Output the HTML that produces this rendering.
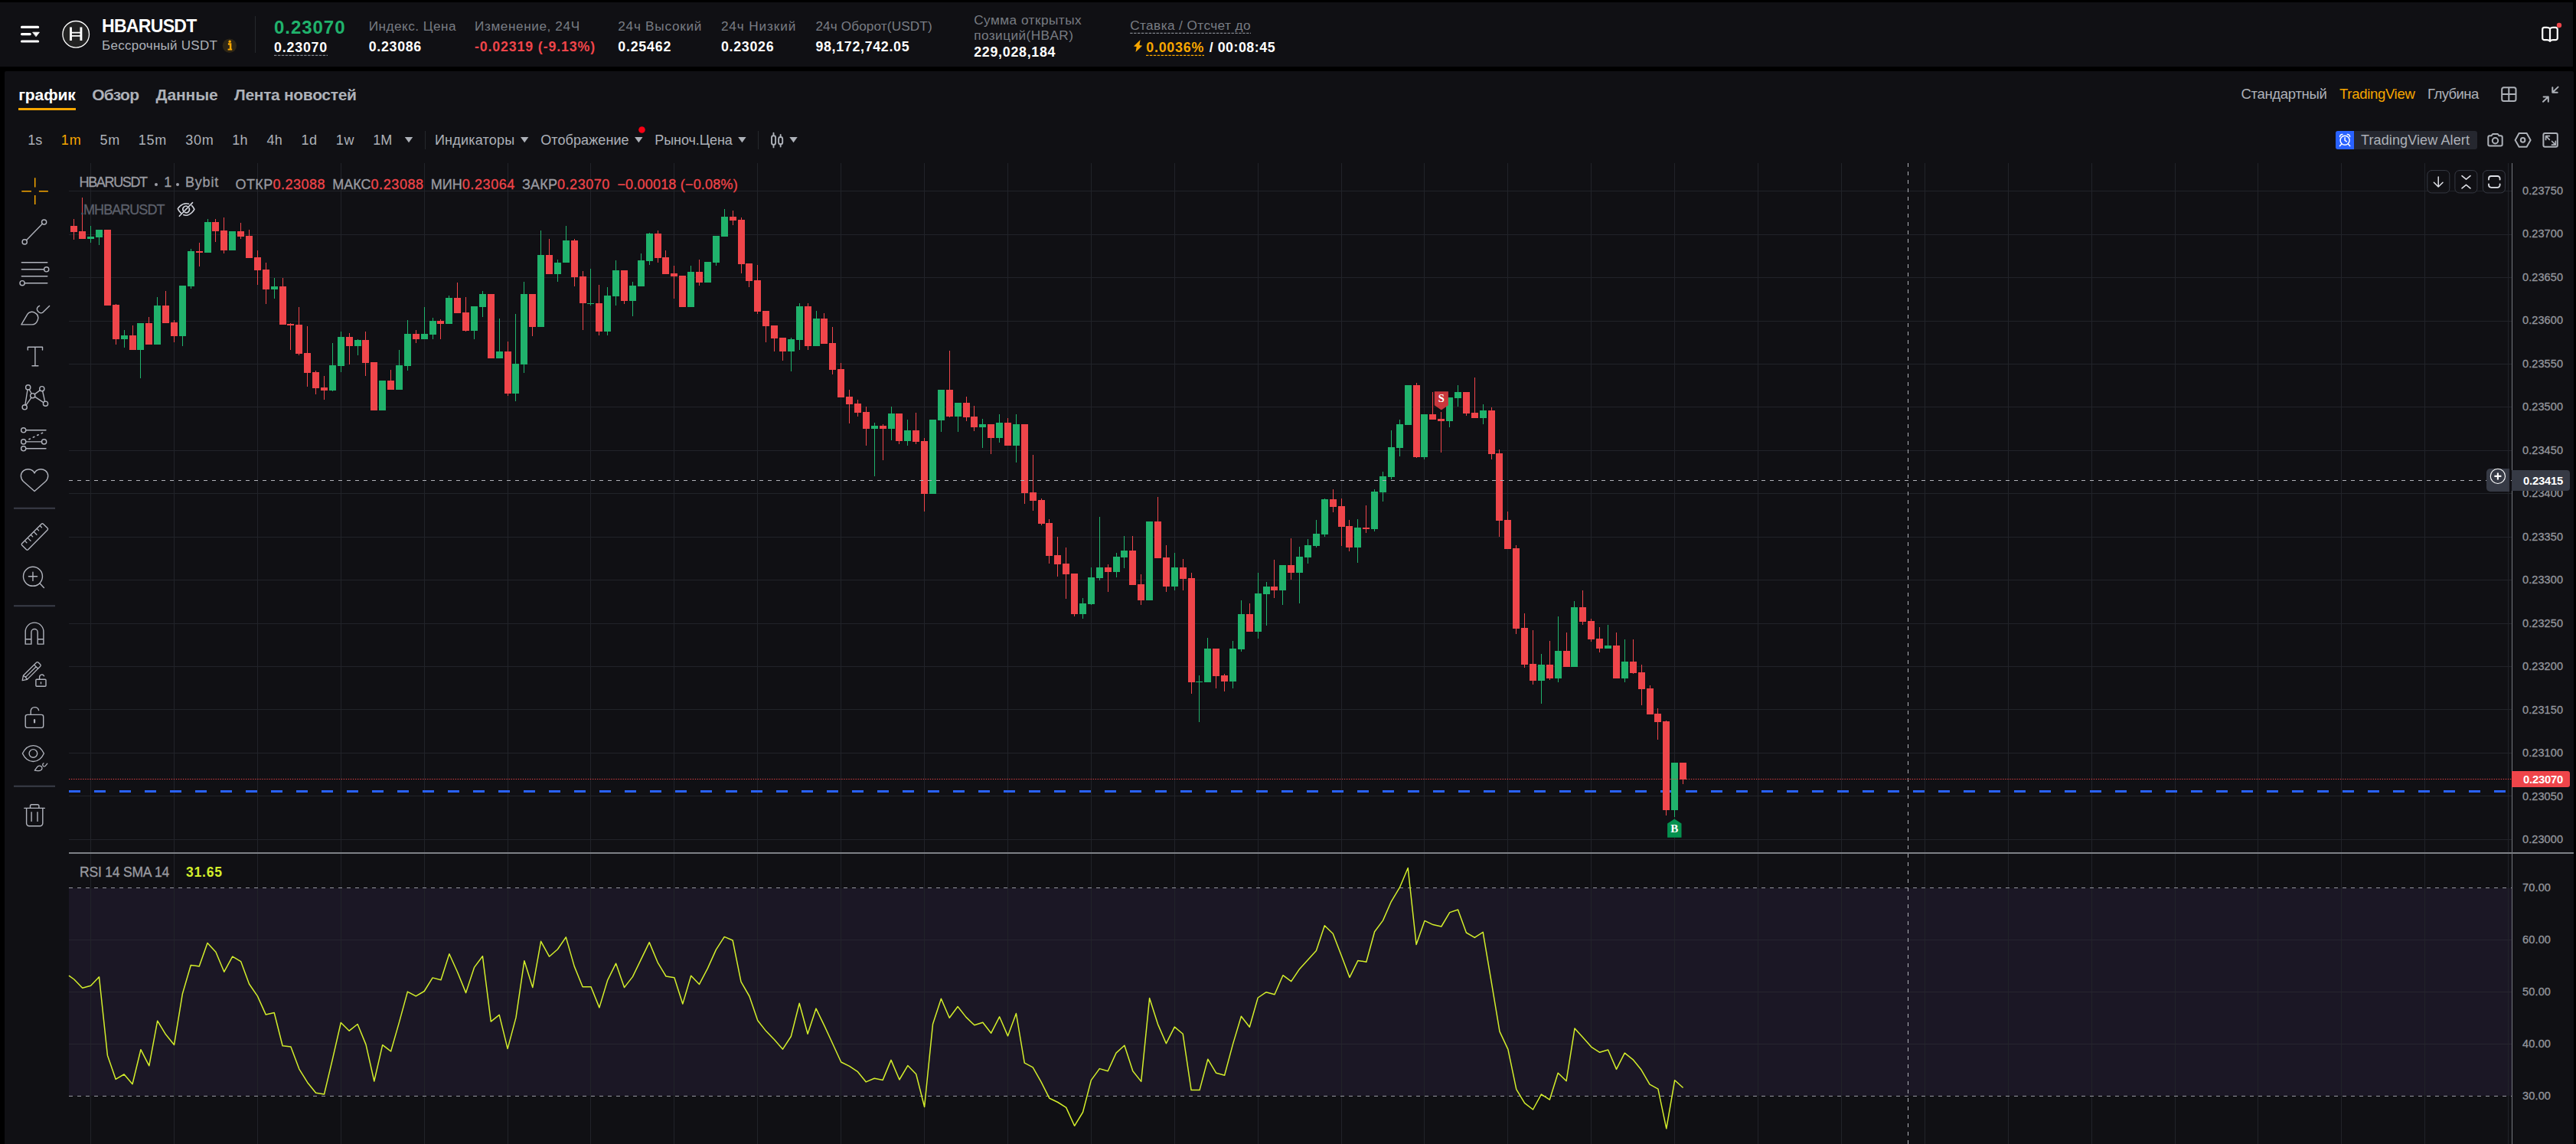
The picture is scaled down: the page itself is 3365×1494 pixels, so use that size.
<!DOCTYPE html><html><head><meta charset="utf-8"><title>HBARUSDT</title><style>
html,body{margin:0;padding:0;background:#000;}
body{width:3365px;height:1494px;position:relative;overflow:hidden;font-family:"Liberation Sans",sans-serif;}
.t{position:absolute;white-space:nowrap;display:block;}
.p{position:absolute;background:#101014;}
.a{position:absolute;}
svg{position:absolute;left:0;top:0;overflow:visible;}

</style></head><body>
<div class="p" style="left:0;top:3px;width:3361px;height:84px"></div>
<div class="p" style="left:6px;top:93px;width:3356px;height:1401px;border-radius:2px 2px 0 0"></div>
<svg width="3365" height="1494" viewBox="0 0 3365 1494" shape-rendering="crispEdges">
<rect x="90" y="1160" width="3191" height="271" fill="#1b1725"/>
<rect x="118" y="213" width="1" height="1281" fill="#212329"/>
<rect x="227" y="213" width="1" height="1281" fill="#212329"/>
<rect x="336" y="213" width="1" height="1281" fill="#212329"/>
<rect x="445" y="213" width="1" height="1281" fill="#212329"/>
<rect x="554" y="213" width="1" height="1281" fill="#212329"/>
<rect x="663" y="213" width="1" height="1281" fill="#212329"/>
<rect x="771" y="213" width="1" height="1281" fill="#212329"/>
<rect x="880" y="213" width="1" height="1281" fill="#212329"/>
<rect x="989" y="213" width="1" height="1281" fill="#212329"/>
<rect x="1098" y="213" width="1" height="1281" fill="#212329"/>
<rect x="1207" y="213" width="1" height="1281" fill="#212329"/>
<rect x="1316" y="213" width="1" height="1281" fill="#212329"/>
<rect x="1425" y="213" width="1" height="1281" fill="#212329"/>
<rect x="1534" y="213" width="1" height="1281" fill="#212329"/>
<rect x="1643" y="213" width="1" height="1281" fill="#212329"/>
<rect x="1752" y="213" width="1" height="1281" fill="#212329"/>
<rect x="1860" y="213" width="1" height="1281" fill="#212329"/>
<rect x="1969" y="213" width="1" height="1281" fill="#212329"/>
<rect x="2078" y="213" width="1" height="1281" fill="#212329"/>
<rect x="2187" y="213" width="1" height="1281" fill="#212329"/>
<rect x="2296" y="213" width="1" height="1281" fill="#212329"/>
<rect x="2405" y="213" width="1" height="1281" fill="#212329"/>
<rect x="2514" y="213" width="1" height="1281" fill="#212329"/>
<rect x="2623" y="213" width="1" height="1281" fill="#212329"/>
<rect x="2732" y="213" width="1" height="1281" fill="#212329"/>
<rect x="2841" y="213" width="1" height="1281" fill="#212329"/>
<rect x="2949" y="213" width="1" height="1281" fill="#212329"/>
<rect x="3058" y="213" width="1" height="1281" fill="#212329"/>
<rect x="3167" y="213" width="1" height="1281" fill="#212329"/>
<rect x="3276" y="213" width="1" height="1281" fill="#212329"/>
<rect x="90" y="249" width="3191" height="1" fill="#212329"/>
<rect x="90" y="306" width="3191" height="1" fill="#212329"/>
<rect x="90" y="362" width="3191" height="1" fill="#212329"/>
<rect x="90" y="419" width="3191" height="1" fill="#212329"/>
<rect x="90" y="475" width="3191" height="1" fill="#212329"/>
<rect x="90" y="531" width="3191" height="1" fill="#212329"/>
<rect x="90" y="588" width="3191" height="1" fill="#212329"/>
<rect x="90" y="644" width="3191" height="1" fill="#212329"/>
<rect x="90" y="701" width="3191" height="1" fill="#212329"/>
<rect x="90" y="757" width="3191" height="1" fill="#212329"/>
<rect x="90" y="814" width="3191" height="1" fill="#212329"/>
<rect x="90" y="870" width="3191" height="1" fill="#212329"/>
<rect x="90" y="926" width="3191" height="1" fill="#212329"/>
<rect x="90" y="983" width="3191" height="1" fill="#212329"/>
<rect x="90" y="1039" width="3191" height="1" fill="#212329"/>
<rect x="90" y="1096" width="3191" height="1" fill="#212329"/>
<rect x="90" y="1227" width="3191" height="1" fill="#26242f"/>
<rect x="90" y="1295" width="3191" height="1" fill="#26242f"/>
<rect x="90" y="1363" width="3191" height="1" fill="#26242f"/>
<rect x="90" y="1113" width="3272" height="2" fill="#7d8086"/>
<rect x="3281" y="213" width="1" height="1281" fill="#73767d"/>
<line x1="90" y1="1159.5" x2="3281" y2="1159.5" stroke="#94969e" stroke-width="1" stroke-dasharray="5.3 5.7"/>
<line x1="90" y1="1431.5" x2="3281" y2="1431.5" stroke="#94969e" stroke-width="1" stroke-dasharray="5.3 5.7"/>
<line x1="89.6" y1="1033.5" x2="3277" y2="1033.5" stroke="#2962ff" stroke-width="3" stroke-dasharray="15.1 17.9"/>
<rect x="96" y="286" width="1" height="27" fill="#ef454a"/>
<rect x="92" y="295" width="9" height="8" fill="#ef454a"/>
<rect x="107" y="258" width="1" height="54" fill="#ef454a"/>
<rect x="103" y="302" width="9" height="10" fill="#ef454a"/>
<rect x="118" y="295" width="1" height="22" fill="#20b26c"/>
<rect x="114" y="309" width="9" height="3" fill="#20b26c"/>
<rect x="129" y="300" width="1" height="20" fill="#20b26c"/>
<rect x="125" y="300" width="9" height="10" fill="#20b26c"/>
<rect x="140" y="300" width="1" height="99" fill="#ef454a"/>
<rect x="136" y="300" width="9" height="99" fill="#ef454a"/>
<rect x="151" y="397" width="1" height="53" fill="#ef454a"/>
<rect x="147" y="398" width="9" height="45" fill="#ef454a"/>
<rect x="162" y="431" width="1" height="23" fill="#20b26c"/>
<rect x="158" y="438" width="9" height="5" fill="#20b26c"/>
<rect x="173" y="425" width="1" height="32" fill="#ef454a"/>
<rect x="169" y="438" width="9" height="19" fill="#ef454a"/>
<rect x="183" y="422" width="1" height="72" fill="#20b26c"/>
<rect x="179" y="422" width="9" height="35" fill="#20b26c"/>
<rect x="194" y="414" width="1" height="36" fill="#ef454a"/>
<rect x="190" y="422" width="9" height="28" fill="#ef454a"/>
<rect x="205" y="388" width="1" height="62" fill="#20b26c"/>
<rect x="201" y="399" width="9" height="51" fill="#20b26c"/>
<rect x="216" y="380" width="1" height="42" fill="#ef454a"/>
<rect x="212" y="399" width="9" height="23" fill="#ef454a"/>
<rect x="227" y="418" width="1" height="29" fill="#ef454a"/>
<rect x="223" y="421" width="9" height="18" fill="#ef454a"/>
<rect x="238" y="373" width="1" height="79" fill="#20b26c"/>
<rect x="234" y="373" width="9" height="66" fill="#20b26c"/>
<rect x="249" y="325" width="1" height="52" fill="#20b26c"/>
<rect x="245" y="328" width="9" height="46" fill="#20b26c"/>
<rect x="260" y="317" width="1" height="31" fill="#ef454a"/>
<rect x="256" y="328" width="9" height="2" fill="#ef454a"/>
<rect x="271" y="286" width="1" height="44" fill="#20b26c"/>
<rect x="267" y="290" width="9" height="40" fill="#20b26c"/>
<rect x="281" y="286" width="1" height="30" fill="#ef454a"/>
<rect x="277" y="290" width="9" height="12" fill="#ef454a"/>
<rect x="292" y="284" width="1" height="47" fill="#ef454a"/>
<rect x="288" y="301" width="9" height="26" fill="#ef454a"/>
<rect x="303" y="302" width="1" height="25" fill="#20b26c"/>
<rect x="299" y="302" width="9" height="25" fill="#20b26c"/>
<rect x="314" y="291" width="1" height="21" fill="#ef454a"/>
<rect x="310" y="302" width="9" height="7" fill="#ef454a"/>
<rect x="325" y="300" width="1" height="37" fill="#ef454a"/>
<rect x="321" y="308" width="9" height="29" fill="#ef454a"/>
<rect x="336" y="327" width="1" height="45" fill="#ef454a"/>
<rect x="332" y="336" width="9" height="17" fill="#ef454a"/>
<rect x="347" y="343" width="1" height="54" fill="#ef454a"/>
<rect x="343" y="352" width="9" height="26" fill="#ef454a"/>
<rect x="358" y="363" width="1" height="27" fill="#20b26c"/>
<rect x="354" y="374" width="9" height="4" fill="#20b26c"/>
<rect x="369" y="363" width="1" height="61" fill="#ef454a"/>
<rect x="365" y="374" width="9" height="50" fill="#ef454a"/>
<rect x="379" y="422" width="1" height="35" fill="#ef454a"/>
<rect x="375" y="423" width="9" height="2" fill="#ef454a"/>
<rect x="390" y="401" width="1" height="63" fill="#ef454a"/>
<rect x="386" y="424" width="9" height="38" fill="#ef454a"/>
<rect x="401" y="426" width="1" height="79" fill="#ef454a"/>
<rect x="397" y="461" width="9" height="26" fill="#ef454a"/>
<rect x="412" y="484" width="1" height="31" fill="#ef454a"/>
<rect x="408" y="486" width="9" height="21" fill="#ef454a"/>
<rect x="423" y="491" width="1" height="31" fill="#ef454a"/>
<rect x="419" y="506" width="9" height="4" fill="#ef454a"/>
<rect x="434" y="448" width="1" height="63" fill="#20b26c"/>
<rect x="430" y="477" width="9" height="33" fill="#20b26c"/>
<rect x="445" y="433" width="1" height="53" fill="#20b26c"/>
<rect x="441" y="440" width="9" height="38" fill="#20b26c"/>
<rect x="456" y="435" width="1" height="41" fill="#ef454a"/>
<rect x="452" y="440" width="9" height="12" fill="#ef454a"/>
<rect x="467" y="443" width="1" height="21" fill="#20b26c"/>
<rect x="463" y="444" width="9" height="8" fill="#20b26c"/>
<rect x="477" y="433" width="1" height="58" fill="#ef454a"/>
<rect x="473" y="444" width="9" height="30" fill="#ef454a"/>
<rect x="488" y="473" width="1" height="63" fill="#ef454a"/>
<rect x="484" y="473" width="9" height="63" fill="#ef454a"/>
<rect x="499" y="497" width="1" height="39" fill="#20b26c"/>
<rect x="495" y="497" width="9" height="39" fill="#20b26c"/>
<rect x="510" y="483" width="1" height="26" fill="#ef454a"/>
<rect x="506" y="497" width="9" height="12" fill="#ef454a"/>
<rect x="521" y="457" width="1" height="52" fill="#20b26c"/>
<rect x="517" y="477" width="9" height="32" fill="#20b26c"/>
<rect x="532" y="418" width="1" height="66" fill="#20b26c"/>
<rect x="528" y="436" width="9" height="42" fill="#20b26c"/>
<rect x="543" y="431" width="1" height="17" fill="#ef454a"/>
<rect x="539" y="436" width="9" height="7" fill="#ef454a"/>
<rect x="554" y="401" width="1" height="42" fill="#20b26c"/>
<rect x="550" y="436" width="9" height="7" fill="#20b26c"/>
<rect x="565" y="415" width="1" height="28" fill="#20b26c"/>
<rect x="561" y="419" width="9" height="18" fill="#20b26c"/>
<rect x="575" y="417" width="1" height="26" fill="#ef454a"/>
<rect x="571" y="419" width="9" height="4" fill="#ef454a"/>
<rect x="586" y="386" width="1" height="37" fill="#20b26c"/>
<rect x="582" y="389" width="9" height="34" fill="#20b26c"/>
<rect x="597" y="369" width="1" height="40" fill="#ef454a"/>
<rect x="593" y="389" width="9" height="20" fill="#ef454a"/>
<rect x="608" y="388" width="1" height="45" fill="#ef454a"/>
<rect x="604" y="408" width="9" height="24" fill="#ef454a"/>
<rect x="619" y="400" width="1" height="43" fill="#20b26c"/>
<rect x="615" y="400" width="9" height="32" fill="#20b26c"/>
<rect x="630" y="380" width="1" height="34" fill="#20b26c"/>
<rect x="626" y="384" width="9" height="17" fill="#20b26c"/>
<rect x="641" y="384" width="1" height="84" fill="#ef454a"/>
<rect x="637" y="384" width="9" height="84" fill="#ef454a"/>
<rect x="652" y="416" width="1" height="52" fill="#20b26c"/>
<rect x="648" y="459" width="9" height="9" fill="#20b26c"/>
<rect x="663" y="446" width="1" height="71" fill="#ef454a"/>
<rect x="659" y="459" width="9" height="55" fill="#ef454a"/>
<rect x="673" y="410" width="1" height="114" fill="#20b26c"/>
<rect x="669" y="475" width="9" height="39" fill="#20b26c"/>
<rect x="684" y="368" width="1" height="119" fill="#20b26c"/>
<rect x="680" y="384" width="9" height="92" fill="#20b26c"/>
<rect x="695" y="384" width="1" height="55" fill="#ef454a"/>
<rect x="691" y="384" width="9" height="43" fill="#ef454a"/>
<rect x="706" y="301" width="1" height="126" fill="#20b26c"/>
<rect x="702" y="333" width="9" height="94" fill="#20b26c"/>
<rect x="717" y="312" width="1" height="46" fill="#ef454a"/>
<rect x="713" y="333" width="9" height="25" fill="#ef454a"/>
<rect x="728" y="339" width="1" height="29" fill="#20b26c"/>
<rect x="724" y="343" width="9" height="15" fill="#20b26c"/>
<rect x="739" y="295" width="1" height="48" fill="#20b26c"/>
<rect x="735" y="314" width="9" height="29" fill="#20b26c"/>
<rect x="750" y="312" width="1" height="62" fill="#ef454a"/>
<rect x="746" y="314" width="9" height="48" fill="#ef454a"/>
<rect x="761" y="354" width="1" height="77" fill="#ef454a"/>
<rect x="757" y="361" width="9" height="35" fill="#ef454a"/>
<rect x="771" y="351" width="1" height="48" fill="#20b26c"/>
<rect x="767" y="396" width="9" height="1" fill="#20b26c"/>
<rect x="782" y="372" width="1" height="66" fill="#ef454a"/>
<rect x="778" y="396" width="9" height="37" fill="#ef454a"/>
<rect x="793" y="375" width="1" height="63" fill="#20b26c"/>
<rect x="789" y="386" width="9" height="47" fill="#20b26c"/>
<rect x="804" y="340" width="1" height="59" fill="#20b26c"/>
<rect x="800" y="353" width="9" height="34" fill="#20b26c"/>
<rect x="815" y="353" width="1" height="44" fill="#ef454a"/>
<rect x="811" y="353" width="9" height="40" fill="#ef454a"/>
<rect x="826" y="368" width="1" height="45" fill="#20b26c"/>
<rect x="822" y="373" width="9" height="20" fill="#20b26c"/>
<rect x="837" y="331" width="1" height="43" fill="#20b26c"/>
<rect x="833" y="340" width="9" height="34" fill="#20b26c"/>
<rect x="848" y="304" width="1" height="42" fill="#20b26c"/>
<rect x="844" y="305" width="9" height="36" fill="#20b26c"/>
<rect x="859" y="301" width="1" height="42" fill="#ef454a"/>
<rect x="855" y="305" width="9" height="32" fill="#ef454a"/>
<rect x="869" y="327" width="1" height="31" fill="#ef454a"/>
<rect x="865" y="336" width="9" height="22" fill="#ef454a"/>
<rect x="880" y="347" width="1" height="43" fill="#ef454a"/>
<rect x="876" y="357" width="9" height="4" fill="#ef454a"/>
<rect x="891" y="360" width="1" height="41" fill="#ef454a"/>
<rect x="887" y="360" width="9" height="41" fill="#ef454a"/>
<rect x="902" y="347" width="1" height="54" fill="#20b26c"/>
<rect x="898" y="355" width="9" height="46" fill="#20b26c"/>
<rect x="913" y="339" width="1" height="34" fill="#ef454a"/>
<rect x="909" y="355" width="9" height="14" fill="#ef454a"/>
<rect x="924" y="342" width="1" height="27" fill="#20b26c"/>
<rect x="920" y="342" width="9" height="27" fill="#20b26c"/>
<rect x="935" y="308" width="1" height="39" fill="#20b26c"/>
<rect x="931" y="308" width="9" height="35" fill="#20b26c"/>
<rect x="946" y="273" width="1" height="36" fill="#20b26c"/>
<rect x="942" y="283" width="9" height="26" fill="#20b26c"/>
<rect x="957" y="275" width="1" height="19" fill="#ef454a"/>
<rect x="953" y="283" width="9" height="5" fill="#ef454a"/>
<rect x="968" y="284" width="1" height="73" fill="#ef454a"/>
<rect x="964" y="287" width="9" height="58" fill="#ef454a"/>
<rect x="978" y="344" width="1" height="31" fill="#ef454a"/>
<rect x="974" y="344" width="9" height="23" fill="#ef454a"/>
<rect x="989" y="346" width="1" height="64" fill="#ef454a"/>
<rect x="985" y="366" width="9" height="41" fill="#ef454a"/>
<rect x="1000" y="406" width="1" height="41" fill="#ef454a"/>
<rect x="996" y="406" width="9" height="20" fill="#ef454a"/>
<rect x="1011" y="425" width="1" height="34" fill="#ef454a"/>
<rect x="1007" y="425" width="9" height="17" fill="#ef454a"/>
<rect x="1022" y="441" width="1" height="30" fill="#ef454a"/>
<rect x="1018" y="441" width="9" height="18" fill="#ef454a"/>
<rect x="1033" y="441" width="1" height="44" fill="#20b26c"/>
<rect x="1029" y="443" width="9" height="16" fill="#20b26c"/>
<rect x="1044" y="396" width="1" height="61" fill="#20b26c"/>
<rect x="1040" y="400" width="9" height="44" fill="#20b26c"/>
<rect x="1055" y="396" width="1" height="61" fill="#ef454a"/>
<rect x="1051" y="400" width="9" height="52" fill="#ef454a"/>
<rect x="1066" y="406" width="1" height="46" fill="#20b26c"/>
<rect x="1062" y="416" width="9" height="36" fill="#20b26c"/>
<rect x="1076" y="409" width="1" height="40" fill="#ef454a"/>
<rect x="1072" y="416" width="9" height="33" fill="#ef454a"/>
<rect x="1087" y="427" width="1" height="62" fill="#ef454a"/>
<rect x="1083" y="448" width="9" height="35" fill="#ef454a"/>
<rect x="1098" y="474" width="1" height="45" fill="#ef454a"/>
<rect x="1094" y="482" width="9" height="37" fill="#ef454a"/>
<rect x="1109" y="509" width="1" height="44" fill="#ef454a"/>
<rect x="1105" y="518" width="9" height="10" fill="#ef454a"/>
<rect x="1120" y="522" width="1" height="22" fill="#ef454a"/>
<rect x="1116" y="527" width="9" height="12" fill="#ef454a"/>
<rect x="1131" y="531" width="1" height="51" fill="#ef454a"/>
<rect x="1127" y="538" width="9" height="22" fill="#ef454a"/>
<rect x="1142" y="552" width="1" height="70" fill="#20b26c"/>
<rect x="1138" y="556" width="9" height="4" fill="#20b26c"/>
<rect x="1153" y="554" width="1" height="47" fill="#ef454a"/>
<rect x="1149" y="556" width="9" height="4" fill="#ef454a"/>
<rect x="1164" y="531" width="1" height="44" fill="#20b26c"/>
<rect x="1160" y="540" width="9" height="20" fill="#20b26c"/>
<rect x="1174" y="540" width="1" height="40" fill="#ef454a"/>
<rect x="1170" y="540" width="9" height="36" fill="#ef454a"/>
<rect x="1185" y="548" width="1" height="34" fill="#20b26c"/>
<rect x="1181" y="562" width="9" height="14" fill="#20b26c"/>
<rect x="1196" y="539" width="1" height="41" fill="#ef454a"/>
<rect x="1192" y="562" width="9" height="15" fill="#ef454a"/>
<rect x="1207" y="572" width="1" height="96" fill="#ef454a"/>
<rect x="1203" y="576" width="9" height="69" fill="#ef454a"/>
<rect x="1218" y="548" width="1" height="97" fill="#20b26c"/>
<rect x="1214" y="548" width="9" height="97" fill="#20b26c"/>
<rect x="1229" y="509" width="1" height="55" fill="#20b26c"/>
<rect x="1225" y="509" width="9" height="40" fill="#20b26c"/>
<rect x="1240" y="458" width="1" height="87" fill="#ef454a"/>
<rect x="1236" y="509" width="9" height="35" fill="#ef454a"/>
<rect x="1251" y="526" width="1" height="38" fill="#20b26c"/>
<rect x="1247" y="526" width="9" height="18" fill="#20b26c"/>
<rect x="1262" y="518" width="1" height="32" fill="#ef454a"/>
<rect x="1258" y="526" width="9" height="19" fill="#ef454a"/>
<rect x="1272" y="530" width="1" height="33" fill="#ef454a"/>
<rect x="1268" y="544" width="9" height="14" fill="#ef454a"/>
<rect x="1283" y="547" width="1" height="38" fill="#20b26c"/>
<rect x="1279" y="554" width="9" height="4" fill="#20b26c"/>
<rect x="1294" y="554" width="1" height="39" fill="#ef454a"/>
<rect x="1290" y="554" width="9" height="18" fill="#ef454a"/>
<rect x="1305" y="541" width="1" height="37" fill="#20b26c"/>
<rect x="1301" y="552" width="9" height="20" fill="#20b26c"/>
<rect x="1316" y="546" width="1" height="36" fill="#ef454a"/>
<rect x="1312" y="552" width="9" height="30" fill="#ef454a"/>
<rect x="1327" y="541" width="1" height="63" fill="#20b26c"/>
<rect x="1323" y="554" width="9" height="28" fill="#20b26c"/>
<rect x="1338" y="554" width="1" height="104" fill="#ef454a"/>
<rect x="1334" y="554" width="9" height="90" fill="#ef454a"/>
<rect x="1349" y="594" width="1" height="73" fill="#ef454a"/>
<rect x="1345" y="643" width="9" height="11" fill="#ef454a"/>
<rect x="1360" y="651" width="1" height="35" fill="#ef454a"/>
<rect x="1356" y="653" width="9" height="31" fill="#ef454a"/>
<rect x="1370" y="678" width="1" height="58" fill="#ef454a"/>
<rect x="1366" y="683" width="9" height="43" fill="#ef454a"/>
<rect x="1381" y="701" width="1" height="52" fill="#ef454a"/>
<rect x="1377" y="725" width="9" height="12" fill="#ef454a"/>
<rect x="1392" y="715" width="1" height="67" fill="#ef454a"/>
<rect x="1388" y="736" width="9" height="14" fill="#ef454a"/>
<rect x="1403" y="749" width="1" height="56" fill="#ef454a"/>
<rect x="1399" y="749" width="9" height="53" fill="#ef454a"/>
<rect x="1414" y="781" width="1" height="27" fill="#20b26c"/>
<rect x="1410" y="788" width="9" height="14" fill="#20b26c"/>
<rect x="1425" y="741" width="1" height="49" fill="#20b26c"/>
<rect x="1421" y="754" width="9" height="35" fill="#20b26c"/>
<rect x="1436" y="675" width="1" height="83" fill="#20b26c"/>
<rect x="1432" y="741" width="9" height="14" fill="#20b26c"/>
<rect x="1447" y="737" width="1" height="36" fill="#ef454a"/>
<rect x="1443" y="741" width="9" height="6" fill="#ef454a"/>
<rect x="1458" y="722" width="1" height="32" fill="#20b26c"/>
<rect x="1454" y="727" width="9" height="20" fill="#20b26c"/>
<rect x="1468" y="700" width="1" height="42" fill="#20b26c"/>
<rect x="1464" y="719" width="9" height="9" fill="#20b26c"/>
<rect x="1479" y="700" width="1" height="64" fill="#ef454a"/>
<rect x="1475" y="719" width="9" height="45" fill="#ef454a"/>
<rect x="1490" y="750" width="1" height="40" fill="#ef454a"/>
<rect x="1486" y="763" width="9" height="21" fill="#ef454a"/>
<rect x="1501" y="681" width="1" height="103" fill="#20b26c"/>
<rect x="1497" y="681" width="9" height="103" fill="#20b26c"/>
<rect x="1512" y="649" width="1" height="80" fill="#ef454a"/>
<rect x="1508" y="681" width="9" height="48" fill="#ef454a"/>
<rect x="1523" y="712" width="1" height="61" fill="#ef454a"/>
<rect x="1519" y="728" width="9" height="38" fill="#ef454a"/>
<rect x="1534" y="722" width="1" height="49" fill="#20b26c"/>
<rect x="1530" y="741" width="9" height="25" fill="#20b26c"/>
<rect x="1545" y="730" width="1" height="41" fill="#ef454a"/>
<rect x="1541" y="741" width="9" height="15" fill="#ef454a"/>
<rect x="1556" y="748" width="1" height="158" fill="#ef454a"/>
<rect x="1552" y="755" width="9" height="136" fill="#ef454a"/>
<rect x="1566" y="882" width="1" height="61" fill="#20b26c"/>
<rect x="1562" y="890" width="9" height="1" fill="#20b26c"/>
<rect x="1577" y="833" width="1" height="58" fill="#20b26c"/>
<rect x="1573" y="847" width="9" height="44" fill="#20b26c"/>
<rect x="1588" y="847" width="1" height="52" fill="#ef454a"/>
<rect x="1584" y="847" width="9" height="36" fill="#ef454a"/>
<rect x="1599" y="880" width="1" height="23" fill="#ef454a"/>
<rect x="1595" y="882" width="9" height="8" fill="#ef454a"/>
<rect x="1610" y="837" width="1" height="62" fill="#20b26c"/>
<rect x="1606" y="847" width="9" height="43" fill="#20b26c"/>
<rect x="1621" y="784" width="1" height="67" fill="#20b26c"/>
<rect x="1617" y="802" width="9" height="46" fill="#20b26c"/>
<rect x="1632" y="788" width="1" height="37" fill="#ef454a"/>
<rect x="1628" y="802" width="9" height="23" fill="#ef454a"/>
<rect x="1643" y="748" width="1" height="86" fill="#20b26c"/>
<rect x="1639" y="775" width="9" height="50" fill="#20b26c"/>
<rect x="1654" y="760" width="1" height="57" fill="#20b26c"/>
<rect x="1650" y="766" width="9" height="10" fill="#20b26c"/>
<rect x="1664" y="731" width="1" height="50" fill="#ef454a"/>
<rect x="1660" y="766" width="9" height="5" fill="#ef454a"/>
<rect x="1675" y="738" width="1" height="52" fill="#20b26c"/>
<rect x="1671" y="738" width="9" height="33" fill="#20b26c"/>
<rect x="1686" y="703" width="1" height="54" fill="#ef454a"/>
<rect x="1682" y="738" width="9" height="10" fill="#ef454a"/>
<rect x="1697" y="714" width="1" height="74" fill="#20b26c"/>
<rect x="1693" y="727" width="9" height="21" fill="#20b26c"/>
<rect x="1708" y="704" width="1" height="32" fill="#20b26c"/>
<rect x="1704" y="712" width="9" height="16" fill="#20b26c"/>
<rect x="1719" y="679" width="1" height="36" fill="#20b26c"/>
<rect x="1715" y="697" width="9" height="16" fill="#20b26c"/>
<rect x="1730" y="651" width="1" height="50" fill="#20b26c"/>
<rect x="1726" y="652" width="9" height="46" fill="#20b26c"/>
<rect x="1741" y="639" width="1" height="30" fill="#ef454a"/>
<rect x="1737" y="652" width="9" height="10" fill="#ef454a"/>
<rect x="1752" y="651" width="1" height="62" fill="#ef454a"/>
<rect x="1748" y="661" width="9" height="27" fill="#ef454a"/>
<rect x="1762" y="679" width="1" height="41" fill="#ef454a"/>
<rect x="1758" y="687" width="9" height="28" fill="#ef454a"/>
<rect x="1773" y="678" width="1" height="57" fill="#20b26c"/>
<rect x="1769" y="689" width="9" height="26" fill="#20b26c"/>
<rect x="1784" y="660" width="1" height="36" fill="#ef454a"/>
<rect x="1780" y="689" width="9" height="2" fill="#ef454a"/>
<rect x="1795" y="639" width="1" height="55" fill="#20b26c"/>
<rect x="1791" y="642" width="9" height="49" fill="#20b26c"/>
<rect x="1806" y="616" width="1" height="39" fill="#20b26c"/>
<rect x="1802" y="622" width="9" height="21" fill="#20b26c"/>
<rect x="1817" y="562" width="1" height="64" fill="#20b26c"/>
<rect x="1813" y="584" width="9" height="39" fill="#20b26c"/>
<rect x="1828" y="548" width="1" height="48" fill="#20b26c"/>
<rect x="1824" y="554" width="9" height="31" fill="#20b26c"/>
<rect x="1839" y="503" width="1" height="52" fill="#20b26c"/>
<rect x="1835" y="503" width="9" height="52" fill="#20b26c"/>
<rect x="1850" y="500" width="1" height="98" fill="#ef454a"/>
<rect x="1846" y="503" width="9" height="94" fill="#ef454a"/>
<rect x="1860" y="541" width="1" height="59" fill="#20b26c"/>
<rect x="1856" y="541" width="9" height="56" fill="#20b26c"/>
<rect x="1871" y="512" width="1" height="36" fill="#ef454a"/>
<rect x="1867" y="541" width="9" height="7" fill="#ef454a"/>
<rect x="1882" y="538" width="1" height="53" fill="#ef454a"/>
<rect x="1878" y="547" width="9" height="3" fill="#ef454a"/>
<rect x="1893" y="519" width="1" height="39" fill="#20b26c"/>
<rect x="1889" y="519" width="9" height="31" fill="#20b26c"/>
<rect x="1904" y="503" width="1" height="28" fill="#20b26c"/>
<rect x="1900" y="512" width="9" height="8" fill="#20b26c"/>
<rect x="1915" y="512" width="1" height="31" fill="#ef454a"/>
<rect x="1911" y="512" width="9" height="28" fill="#ef454a"/>
<rect x="1926" y="493" width="1" height="53" fill="#ef454a"/>
<rect x="1922" y="539" width="9" height="7" fill="#ef454a"/>
<rect x="1937" y="528" width="1" height="26" fill="#20b26c"/>
<rect x="1933" y="536" width="9" height="10" fill="#20b26c"/>
<rect x="1948" y="532" width="1" height="68" fill="#ef454a"/>
<rect x="1944" y="536" width="9" height="57" fill="#ef454a"/>
<rect x="1958" y="587" width="1" height="114" fill="#ef454a"/>
<rect x="1954" y="592" width="9" height="88" fill="#ef454a"/>
<rect x="1969" y="668" width="1" height="49" fill="#ef454a"/>
<rect x="1965" y="679" width="9" height="38" fill="#ef454a"/>
<rect x="1980" y="712" width="1" height="116" fill="#ef454a"/>
<rect x="1976" y="716" width="9" height="105" fill="#ef454a"/>
<rect x="1991" y="801" width="1" height="71" fill="#ef454a"/>
<rect x="1987" y="820" width="9" height="48" fill="#ef454a"/>
<rect x="2002" y="823" width="1" height="71" fill="#ef454a"/>
<rect x="1998" y="867" width="9" height="22" fill="#ef454a"/>
<rect x="2013" y="854" width="1" height="65" fill="#20b26c"/>
<rect x="2009" y="868" width="9" height="21" fill="#20b26c"/>
<rect x="2024" y="837" width="1" height="51" fill="#ef454a"/>
<rect x="2020" y="868" width="9" height="18" fill="#ef454a"/>
<rect x="2035" y="805" width="1" height="86" fill="#20b26c"/>
<rect x="2031" y="850" width="9" height="36" fill="#20b26c"/>
<rect x="2046" y="826" width="1" height="45" fill="#ef454a"/>
<rect x="2042" y="850" width="9" height="21" fill="#ef454a"/>
<rect x="2056" y="785" width="1" height="86" fill="#20b26c"/>
<rect x="2052" y="793" width="9" height="78" fill="#20b26c"/>
<rect x="2067" y="771" width="1" height="45" fill="#ef454a"/>
<rect x="2063" y="793" width="9" height="19" fill="#ef454a"/>
<rect x="2078" y="808" width="1" height="30" fill="#ef454a"/>
<rect x="2074" y="811" width="9" height="24" fill="#ef454a"/>
<rect x="2089" y="819" width="1" height="33" fill="#ef454a"/>
<rect x="2085" y="834" width="9" height="13" fill="#ef454a"/>
<rect x="2100" y="816" width="1" height="31" fill="#20b26c"/>
<rect x="2096" y="843" width="9" height="4" fill="#20b26c"/>
<rect x="2111" y="826" width="1" height="60" fill="#ef454a"/>
<rect x="2107" y="843" width="9" height="43" fill="#ef454a"/>
<rect x="2122" y="835" width="1" height="56" fill="#20b26c"/>
<rect x="2118" y="864" width="9" height="22" fill="#20b26c"/>
<rect x="2133" y="835" width="1" height="45" fill="#ef454a"/>
<rect x="2129" y="864" width="9" height="15" fill="#ef454a"/>
<rect x="2144" y="868" width="1" height="53" fill="#ef454a"/>
<rect x="2140" y="878" width="9" height="22" fill="#ef454a"/>
<rect x="2155" y="895" width="1" height="38" fill="#ef454a"/>
<rect x="2151" y="899" width="9" height="34" fill="#ef454a"/>
<rect x="2165" y="925" width="1" height="41" fill="#ef454a"/>
<rect x="2161" y="932" width="9" height="11" fill="#ef454a"/>
<rect x="2176" y="941" width="1" height="124" fill="#ef454a"/>
<rect x="2172" y="942" width="9" height="116" fill="#ef454a"/>
<rect x="2187" y="996" width="1" height="71" fill="#20b26c"/>
<rect x="2183" y="996" width="9" height="62" fill="#20b26c"/>
<rect x="2198" y="996" width="1" height="28" fill="#ef454a"/>
<rect x="2194" y="996" width="9" height="22" fill="#ef454a"/>
<line x1="90" y1="627.5" x2="3281" y2="627.5" stroke="#b2b4ba" stroke-width="1" stroke-dasharray="5.3 5.7"/>
<line x1="2492.5" y1="213" x2="2492.5" y2="1494" stroke="#b2b4ba" stroke-width="1" stroke-dasharray="5.3 5.7"/>
</svg>
<svg width="3365" height="1494" viewBox="0 0 3365 1494">
<polyline fill="none" stroke="#d3ee2b" stroke-width="1.5" stroke-linejoin="round" points="90.0,1274.1 96.8,1279.0 107.7,1290.2 118.6,1287.3 129.5,1275.8 140.4,1378.2 151.2,1409.4 162.1,1403.0 173.0,1415.7 183.9,1370.7 194.8,1391.8 205.7,1333.2 216.6,1351.1 227.5,1364.4 238.4,1297.7 249.3,1260.5 260.2,1261.9 271.0,1231.4 281.9,1243.2 292.8,1269.2 303.7,1249.2 314.6,1255.6 325.5,1285.0 336.4,1300.9 347.3,1325.1 358.2,1322.5 369.1,1365.8 379.9,1367.0 390.8,1396.1 401.7,1413.7 412.6,1427.3 423.5,1429.0 434.4,1383.1 445.3,1335.5 456.2,1346.2 467.1,1337.5 478.0,1364.1 488.8,1412.0 499.7,1364.7 510.6,1373.0 521.5,1334.9 532.4,1295.1 543.3,1300.9 554.2,1294.5 565.1,1276.9 576.0,1279.8 586.9,1245.8 597.7,1269.7 608.6,1296.6 619.5,1263.4 630.4,1248.7 641.3,1334.1 652.2,1325.4 663.1,1369.6 674.0,1328.9 684.9,1254.7 695.8,1289.6 706.6,1229.3 717.5,1249.2 728.4,1239.7 739.3,1223.9 750.2,1261.9 761.1,1288.8 772.0,1288.8 782.9,1315.9 793.8,1279.8 804.6,1258.2 815.5,1289.6 826.4,1275.6 837.3,1253.1 848.2,1230.6 859.1,1256.8 870.0,1275.0 880.9,1276.8 891.8,1311.1 902.7,1274.2 913.5,1285.4 924.4,1264.6 935.3,1240.4 946.2,1223.4 957.1,1228.0 968.0,1282.2 978.9,1301.0 989.8,1332.7 1000.7,1346.6 1011.6,1357.8 1022.5,1370.2 1033.3,1353.5 1044.2,1310.2 1055.1,1350.3 1066.0,1317.1 1076.9,1339.7 1087.8,1363.3 1098.7,1387.0 1109.6,1392.4 1120.5,1399.7 1131.3,1412.9 1142.2,1408.3 1153.1,1410.6 1164.0,1384.4 1174.9,1410.0 1185.8,1391.6 1196.7,1402.8 1207.6,1445.5 1218.5,1337.6 1229.4,1304.2 1240.2,1329.3 1251.1,1314.5 1262.0,1328.4 1272.9,1338.8 1283.8,1335.3 1294.7,1349.2 1305.6,1327.8 1316.5,1352.9 1327.4,1323.5 1338.3,1388.1 1349.2,1393.9 1360.0,1412.9 1370.9,1434.3 1381.8,1439.5 1392.7,1446.4 1403.6,1470.3 1414.5,1452.5 1425.4,1410.6 1436.3,1395.6 1447.2,1398.8 1458.0,1375.1 1468.9,1365.3 1479.8,1398.8 1490.7,1412.4 1501.6,1303.6 1512.5,1337.6 1523.4,1362.7 1534.3,1341.1 1545.2,1350.3 1556.1,1423.6 1567.0,1423.6 1577.8,1383.2 1588.7,1401.3 1599.6,1404.3 1610.5,1363.6 1621.4,1327.2 1632.3,1341.3 1643.2,1303.0 1654.1,1295.7 1665.0,1298.7 1675.9,1273.7 1686.7,1281.6 1697.6,1265.4 1708.5,1253.5 1719.4,1241.5 1730.3,1208.8 1741.2,1219.2 1752.1,1247.6 1763.0,1276.4 1773.9,1254.4 1784.8,1256.2 1795.6,1216.7 1806.5,1202.1 1817.4,1177.3 1828.3,1159.2 1839.2,1133.5 1850.1,1233.6 1861.0,1202.4 1871.9,1207.6 1882.8,1210.0 1893.7,1191.6 1904.5,1188.0 1915.4,1218.0 1926.3,1224.4 1937.2,1217.4 1948.1,1281.9 1959.0,1347.1 1969.9,1370.4 1980.8,1422.7 1991.7,1440.7 2002.5,1449.0 2013.4,1429.1 2024.3,1436.1 2035.2,1401.3 2046.1,1411.7 2057.0,1343.1 2067.9,1355.1 2078.8,1367.3 2089.7,1374.3 2100.6,1371.0 2111.5,1396.4 2122.3,1375.2 2133.2,1383.8 2144.1,1397.3 2155.0,1416.2 2165.9,1422.1 2176.8,1473.8 2187.7,1410.7 2198.6,1420.5"/>
<line x1="90" y1="1017.5" x2="3281" y2="1017.5" stroke="#ef454a" stroke-width="1.1" stroke-dasharray="1.3 1.74"/>
<path d="M1873.8 511.2h18.1v18.1l-9.05 6.2l-9.05-6.2z" fill="#c9373c"/>
<text x="1882.8" y="525.2" font-family="Liberation Serif" font-weight="700" font-size="14.5" fill="#fff" text-anchor="middle">S</text>
<path d="M2178.1 1093.7v-18.2l9.2-5.9l9.2 5.9v18.2z" fill="#04914f"/>
<text x="2187.3" y="1087.2" font-family="Liberation Serif" font-weight="700" font-size="15" fill="#fff" text-anchor="middle">B</text>
</svg>
<span id="pa0" class="t" style="left:3295.0px;top:240.9px;font-size:14.5px;line-height:17px;color:#94969d;font-weight:400;letter-spacing:0.088px;-webkit-text-stroke:0.3px currentColor;">0.23750</span>
<span id="pa1" class="t" style="left:3295.0px;top:297.4px;font-size:14.5px;line-height:17px;color:#94969d;font-weight:400;letter-spacing:0.088px;-webkit-text-stroke:0.3px currentColor;">0.23700</span>
<span id="pa2" class="t" style="left:3295.0px;top:353.9px;font-size:14.5px;line-height:17px;color:#94969d;font-weight:400;letter-spacing:0.088px;-webkit-text-stroke:0.3px currentColor;">0.23650</span>
<span id="pa3" class="t" style="left:3295.0px;top:410.3px;font-size:14.5px;line-height:17px;color:#94969d;font-weight:400;letter-spacing:0.088px;-webkit-text-stroke:0.3px currentColor;">0.23600</span>
<span id="pa4" class="t" style="left:3295.0px;top:466.8px;font-size:14.5px;line-height:17px;color:#94969d;font-weight:400;letter-spacing:0.088px;-webkit-text-stroke:0.3px currentColor;">0.23550</span>
<span id="pa5" class="t" style="left:3295.0px;top:523.3px;font-size:14.5px;line-height:17px;color:#94969d;font-weight:400;letter-spacing:0.088px;-webkit-text-stroke:0.3px currentColor;">0.23500</span>
<span id="pa6" class="t" style="left:3295.0px;top:579.8px;font-size:14.5px;line-height:17px;color:#94969d;font-weight:400;letter-spacing:0.088px;-webkit-text-stroke:0.3px currentColor;">0.23450</span>
<span id="pa7" class="t" style="left:3295.0px;top:636.3px;font-size:14.5px;line-height:17px;color:#94969d;font-weight:400;letter-spacing:0.088px;-webkit-text-stroke:0.3px currentColor;">0.23400</span>
<span id="pa8" class="t" style="left:3295.0px;top:692.7px;font-size:14.5px;line-height:17px;color:#94969d;font-weight:400;letter-spacing:0.088px;-webkit-text-stroke:0.3px currentColor;">0.23350</span>
<span id="pa9" class="t" style="left:3295.0px;top:749.2px;font-size:14.5px;line-height:17px;color:#94969d;font-weight:400;letter-spacing:0.088px;-webkit-text-stroke:0.3px currentColor;">0.23300</span>
<span id="pa10" class="t" style="left:3295.0px;top:805.7px;font-size:14.5px;line-height:17px;color:#94969d;font-weight:400;letter-spacing:0.088px;-webkit-text-stroke:0.3px currentColor;">0.23250</span>
<span id="pa11" class="t" style="left:3295.0px;top:862.2px;font-size:14.5px;line-height:17px;color:#94969d;font-weight:400;letter-spacing:0.088px;-webkit-text-stroke:0.3px currentColor;">0.23200</span>
<span id="pa12" class="t" style="left:3295.0px;top:918.7px;font-size:14.5px;line-height:17px;color:#94969d;font-weight:400;letter-spacing:0.088px;-webkit-text-stroke:0.3px currentColor;">0.23150</span>
<span id="pa13" class="t" style="left:3295.0px;top:975.1px;font-size:14.5px;line-height:17px;color:#94969d;font-weight:400;letter-spacing:0.088px;-webkit-text-stroke:0.3px currentColor;">0.23100</span>
<span id="pa14" class="t" style="left:3295.0px;top:1031.6px;font-size:14.5px;line-height:17px;color:#94969d;font-weight:400;letter-spacing:0.088px;-webkit-text-stroke:0.3px currentColor;">0.23050</span>
<span id="pa15" class="t" style="left:3295.0px;top:1088.1px;font-size:14.5px;line-height:17px;color:#94969d;font-weight:400;letter-spacing:0.088px;-webkit-text-stroke:0.3px currentColor;">0.23000</span>
<span id="ra0" class="t" style="left:3295.0px;top:1151.3px;font-size:14.5px;line-height:17px;color:#94969d;font-weight:400;letter-spacing:0.158px;-webkit-text-stroke:0.3px currentColor;">70.00</span>
<span id="ra1" class="t" style="left:3295.0px;top:1219.3px;font-size:14.5px;line-height:17px;color:#94969d;font-weight:400;letter-spacing:0.158px;-webkit-text-stroke:0.3px currentColor;">60.00</span>
<span id="ra2" class="t" style="left:3295.0px;top:1287.3px;font-size:14.5px;line-height:17px;color:#94969d;font-weight:400;letter-spacing:0.158px;-webkit-text-stroke:0.3px currentColor;">50.00</span>
<span id="ra3" class="t" style="left:3295.0px;top:1355.3px;font-size:14.5px;line-height:17px;color:#94969d;font-weight:400;letter-spacing:0.158px;-webkit-text-stroke:0.3px currentColor;">40.00</span>
<span id="ra4" class="t" style="left:3295.0px;top:1423.3px;font-size:14.5px;line-height:17px;color:#94969d;font-weight:400;letter-spacing:0.158px;-webkit-text-stroke:0.3px currentColor;">30.00</span>
<div class="a" style="left:3281px;top:614px;width:76px;height:27px;background:#363a45;border-radius:0 4px 4px 0"></div>
<span id="cl" class="t" style="left:3296.0px;top:619.2px;font-size:14.8px;line-height:18px;color:#fff;font-weight:700;letter-spacing:-0.199px;">0.23415</span>
<div class="a" style="left:3248px;top:612px;width:30px;height:30px;background:#363a45;border-radius:5px 0 0 5px"></div>
<svg width="3365" height="1494"><circle cx="3262.9" cy="621.9" r="9.6" fill="none" stroke="#fff" stroke-width="1.1"/><path d="M3258.4 621.9h9M3262.9 617.4v9" stroke="#fff" stroke-width="2.1" fill="none"/></svg>
<div class="a" style="left:3281px;top:1007px;width:76px;height:21px;background:#ef454a;border-radius:0 3px 3px 0"></div>
<span id="ll" class="t" style="left:3296.0px;top:1009.2px;font-size:14.8px;line-height:18px;color:#fff;font-weight:700;letter-spacing:-0.199px;">0.23070</span>
<span id="sym" class="t" style="left:133.0px;top:20.0px;font-size:23px;line-height:28px;color:#fff;font-weight:700;letter-spacing:-0.675px;">HBARUSDT</span>
<span id="sub" class="t" style="left:133.0px;top:50.0px;font-size:17px;line-height:20px;color:#adb1b8;font-weight:400;letter-spacing:0.268px;">Бессрочный USDT</span>
<span id="p1" class="t" style="left:358.0px;top:20.5px;font-size:24px;line-height:29px;color:#20b26c;font-weight:700;letter-spacing:0.961px;">0.23070</span>
<span id="p2" class="t" style="left:358.0px;top:51.5px;font-size:17.8px;line-height:21px;color:#fff;font-weight:700;letter-spacing:0.817px;">0.23070</span>
<span id="hl0" class="t" style="left:481.7px;top:23.8px;font-size:17.2px;line-height:21px;color:#787c83;font-weight:400;letter-spacing:0.477px;">Индекс. Цена</span>
<span id="hv0" class="t" style="left:481.7px;top:51.2px;font-size:17.8px;line-height:21px;color:#fff;font-weight:700;letter-spacing:0.711px;">0.23086</span>
<span id="hl1" class="t" style="left:620.0px;top:23.8px;font-size:17.2px;line-height:21px;color:#787c83;font-weight:400;letter-spacing:0.589px;">Изменение, 24Ч</span>
<span id="hv1" class="t" style="left:620.0px;top:51.2px;font-size:17.8px;line-height:21px;color:#ef454a;font-weight:700;letter-spacing:0.859px;">-0.02319 (-9.13%)</span>
<span id="hl2" class="t" style="left:807.3px;top:23.8px;font-size:17.2px;line-height:21px;color:#787c83;font-weight:400;letter-spacing:0.738px;">24ч Высокий</span>
<span id="hv2" class="t" style="left:807.3px;top:51.2px;font-size:17.8px;line-height:21px;color:#fff;font-weight:700;letter-spacing:0.786px;">0.25462</span>
<span id="hl3" class="t" style="left:941.9px;top:23.8px;font-size:17.2px;line-height:21px;color:#787c83;font-weight:400;letter-spacing:0.877px;">24ч Низкий</span>
<span id="hv3" class="t" style="left:941.9px;top:51.2px;font-size:17.8px;line-height:21px;color:#fff;font-weight:700;letter-spacing:0.742px;">0.23026</span>
<span id="hl4" class="t" style="left:1065.4px;top:23.8px;font-size:17.2px;line-height:21px;color:#787c83;font-weight:400;letter-spacing:0.118px;">24ч Оборот(USDT)</span>
<span id="hv4" class="t" style="left:1065.4px;top:51.2px;font-size:17.8px;line-height:21px;color:#fff;font-weight:700;letter-spacing:0.703px;">98,172,742.05</span>
<span id="oi1" class="t" style="left:1272.2px;top:16.0px;font-size:17.2px;line-height:21px;color:#787c83;font-weight:400;letter-spacing:0.490px;">Сумма открытых</span>
<span id="oi2" class="t" style="left:1272.2px;top:36.1px;font-size:17.2px;line-height:21px;color:#787c83;font-weight:400;letter-spacing:0.447px;">позиций(HBAR)</span>
<span id="oi3" class="t" style="left:1272.2px;top:58.1px;font-size:17.8px;line-height:21px;color:#fff;font-weight:700;letter-spacing:0.744px;">229,028,184</span>
<span id="fr1" class="t" style="left:1476.2px;top:22.5px;font-size:17.2px;line-height:21px;color:#787c83;font-weight:400;letter-spacing:0.417px;">Ставка / Отсчет до</span>
<span id="fr2" class="t" style="left:1497.2px;top:51.7px;font-size:17.8px;line-height:21px;color:#f7a600;font-weight:700;letter-spacing:0.814px;">0.0036%</span>
<span id="fr3" class="t" style="left:1579.7px;top:51.7px;font-size:17.8px;line-height:21px;color:#fff;font-weight:700;letter-spacing:0.531px;">/ 00:08:45</span>
<div class="a" style="left:333px;top:21px;width:1px;height:48px;background:#25282c"></div>
<span id="tb0" class="t" style="left:24.2px;top:111.0px;font-size:21px;line-height:25px;color:#fff;font-weight:700;letter-spacing:-0.082px;">график</span>
<div class="a" style="left:24px;top:141px;width:75px;height:3px;background:#f7a600"></div>
<span id="tb1" class="t" style="left:120.2px;top:111.0px;font-size:21px;line-height:25px;color:#adb1b8;font-weight:700;letter-spacing:-0.691px;">Обзор</span>
<span id="tb2" class="t" style="left:203.6px;top:111.0px;font-size:21px;line-height:25px;color:#adb1b8;font-weight:700;letter-spacing:-0.113px;">Данные</span>
<span id="tb3" class="t" style="left:306.0px;top:111.0px;font-size:21px;line-height:25px;color:#adb1b8;font-weight:700;letter-spacing:-0.322px;">Лента новостей</span>
<span id="vw0" class="t" style="left:2927.5px;top:112.0px;font-size:18.5px;line-height:22px;color:#adb1b8;font-weight:400;letter-spacing:-0.317px;">Стандартный</span>
<span id="vw1" class="t" style="left:3056.0px;top:112.0px;font-size:18.5px;line-height:22px;color:#f7a600;font-weight:400;letter-spacing:-0.306px;">TradingView</span>
<span id="vw2" class="t" style="left:3171.0px;top:112.0px;font-size:18.5px;line-height:22px;color:#adb1b8;font-weight:400;letter-spacing:-0.565px;">Глубина</span>
<span id="tf0" class="t" style="left:36.3px;top:171.5px;font-size:18px;line-height:22px;color:#adb1b8;font-weight:400;letter-spacing:0.050px;">1s</span>
<span id="tf1" class="t" style="left:79.7px;top:171.5px;font-size:18px;line-height:22px;color:#f7a600;font-weight:400;letter-spacing:0.988px;">1m</span>
<span id="tf2" class="t" style="left:130.4px;top:171.5px;font-size:18px;line-height:22px;color:#adb1b8;font-weight:400;letter-spacing:0.727px;">5m</span>
<span id="tf3" class="t" style="left:180.7px;top:171.5px;font-size:18px;line-height:22px;color:#adb1b8;font-weight:400;letter-spacing:0.713px;">15m</span>
<span id="tf4" class="t" style="left:242.2px;top:171.5px;font-size:18px;line-height:22px;color:#adb1b8;font-weight:400;letter-spacing:0.713px;">30m</span>
<span id="tf5" class="t" style="left:303.3px;top:171.5px;font-size:18px;line-height:22px;color:#adb1b8;font-weight:400;letter-spacing:0.312px;">1h</span>
<span id="tf6" class="t" style="left:348.4px;top:171.5px;font-size:18px;line-height:22px;color:#adb1b8;font-weight:400;letter-spacing:0.383px;">4h</span>
<span id="tf7" class="t" style="left:393.6px;top:171.5px;font-size:18px;line-height:22px;color:#adb1b8;font-weight:400;letter-spacing:0.312px;">1d</span>
<span id="tf8" class="t" style="left:438.8px;top:171.5px;font-size:18px;line-height:22px;color:#adb1b8;font-weight:400;letter-spacing:0.784px;">1w</span>
<span id="tf9" class="t" style="left:487.3px;top:171.5px;font-size:18px;line-height:22px;color:#adb1b8;font-weight:400;letter-spacing:0.055px;">1M</span>
<span id="ind" class="t" style="left:567.9px;top:171.5px;font-size:18px;line-height:22px;color:#adb1b8;font-weight:400;letter-spacing:0.208px;">Индикаторы</span>
<span id="dsp" class="t" style="left:706.2px;top:171.5px;font-size:18px;line-height:22px;color:#adb1b8;font-weight:400;letter-spacing:0.100px;">Отображение</span>
<span id="mkt" class="t" style="left:855.3px;top:171.5px;font-size:18px;line-height:22px;color:#adb1b8;font-weight:400;letter-spacing:-0.069px;">Рыноч.Цена</span>
<svg width="3365" height="1494">
<path d="M528.8 179h10.4l-5.2 7.2z" fill="#adb1b8"/>
<path d="M680.0 179h10.4l-5.2 7.2z" fill="#adb1b8"/>
<path d="M829.0999999999999 179h10.4l-5.2 7.2z" fill="#adb1b8"/>
<path d="M964.1999999999999 179h10.4l-5.2 7.2z" fill="#adb1b8"/>
<path d="M1031.3 179h10.4l-5.2 7.2z" fill="#adb1b8"/>
<circle cx="838.5" cy="169.5" r="4.3" fill="#f80014"/>
</svg>
<div class="a" style="left:555px;top:171px;width:1px;height:24px;background:#25282c"></div>
<div class="a" style="left:990px;top:171px;width:1px;height:24px;background:#25282c"></div>
<div class="a" style="left:3051px;top:171px;width:185px;height:24px;background:#25272f;border-radius:3px"></div>
<div class="a" style="left:3051px;top:171px;width:24px;height:24px;background:#2962ff;border-radius:3px 0 0 3px"></div>
<span id="tva" class="t" style="left:3084.0px;top:172.0px;font-size:18px;line-height:22px;color:#adb1b8;font-weight:400;letter-spacing:0.117px;">TradingView Alert</span>
<span id="lg0" class="t" style="left:103.6px;top:226.5px;font-size:18px;line-height:22px;color:#9a9ba1;font-weight:400;letter-spacing:-1.363px;-webkit-text-stroke:0.3px currentColor;">HBARUSDT</span>
<span id="lg1" class="t" style="left:214.2px;top:226.5px;font-size:18px;line-height:22px;color:#9a9ba1;font-weight:400;letter-spacing:-5.842px;-webkit-text-stroke:0.3px currentColor;">1</span>
<span id="lg2" class="t" style="left:242.0px;top:226.5px;font-size:18px;line-height:22px;color:#9a9ba1;font-weight:400;letter-spacing:0.796px;-webkit-text-stroke:0.3px currentColor;">Bybit</span>
<div class="a" style="left:201.5px;top:238.8px;width:4.4px;height:4.4px;border-radius:2px;background:#9c9ea6"></div>
<div class="a" style="left:230px;top:238.8px;width:4.4px;height:4.4px;border-radius:2px;background:#9c9ea6"></div>
<span id="ol0" class="t" style="left:307.5px;top:229.5px;font-size:18px;line-height:22px;color:#9a9ba1;font-weight:400;letter-spacing:0.400px;-webkit-text-stroke:0.3px currentColor;">ОТКР</span>
<span id="ov0" class="t" style="left:356.4px;top:229.5px;font-size:18px;line-height:22px;color:#ef454a;font-weight:400;letter-spacing:0.511px;-webkit-text-stroke:0.3px currentColor;">0.23088</span>
<span id="ol1" class="t" style="left:434.2px;top:229.5px;font-size:18px;line-height:22px;color:#9a9ba1;font-weight:400;letter-spacing:0.001px;-webkit-text-stroke:0.3px currentColor;">МАКС</span>
<span id="ov1" class="t" style="left:484.5px;top:229.5px;font-size:18px;line-height:22px;color:#ef454a;font-weight:400;letter-spacing:0.588px;-webkit-text-stroke:0.3px currentColor;">0.23088</span>
<span id="ol2" class="t" style="left:562.7px;top:229.5px;font-size:18px;line-height:22px;color:#9a9ba1;font-weight:400;letter-spacing:0.027px;-webkit-text-stroke:0.3px currentColor;">МИН</span>
<span id="ov2" class="t" style="left:603.7px;top:229.5px;font-size:18px;line-height:22px;color:#ef454a;font-weight:400;letter-spacing:0.604px;-webkit-text-stroke:0.3px currentColor;">0.23064</span>
<span id="ol3" class="t" style="left:682.0px;top:229.5px;font-size:18px;line-height:22px;color:#9a9ba1;font-weight:400;letter-spacing:0.179px;-webkit-text-stroke:0.3px currentColor;">ЗАКР</span>
<span id="ov3" class="t" style="left:728.0px;top:229.5px;font-size:18px;line-height:22px;color:#ef454a;font-weight:400;letter-spacing:0.544px;-webkit-text-stroke:0.3px currentColor;">0.23070</span>
<span id="och" class="t" style="left:806.4px;top:229.5px;font-size:18px;line-height:22px;color:#ef454a;font-weight:400;letter-spacing:0.199px;-webkit-text-stroke:0.3px currentColor;">−0.00018 (−0.08%)</span>
<span id="mh" class="t" style="left:105.0px;top:262.5px;font-size:18px;line-height:22px;color:#5d606b;font-weight:400;letter-spacing:-0.949px;-webkit-text-stroke:0.3px currentColor;">.MHBARUSDT</span>
<span id="rs" class="t" style="left:104.0px;top:1128.5px;font-size:17.5px;line-height:21px;color:#9a9ba1;font-weight:400;letter-spacing:-0.197px;-webkit-text-stroke:0.3px currentColor;">RSI 14 SMA 14</span>
<span id="rv" class="t" style="left:243.0px;top:1128.5px;font-size:17.5px;line-height:21px;color:#d3ee2b;font-weight:700;letter-spacing:0.778px;">31.65</span>
<svg width="3365" height="1494" viewBox="0 0 3365 1494" fill="none" stroke-linecap="round" stroke-linejoin="round">
<g stroke="#fff" stroke-width="3.2"><path d="M28.5 35.4H49.6M28.5 44.6H39.2M28.5 54H49.6"/></g>
<path d="M43 42.2h8.4l-4.2 5.3z" fill="#fff" stroke="#fff" stroke-width="0.8"/>
<circle cx="99.2" cy="44.8" r="17.3" fill="#222" stroke="#fff" stroke-width="1.3"/>
<path d="M92.5 35.6v17.3M105.9 35.6v17.3" stroke="#fff" stroke-width="2.9" stroke-linecap="butt"/><path d="M93 42.7h13M93 46.8h13" stroke="#fff" stroke-width="1.8" stroke-linecap="butt"/>
<circle cx="299.9" cy="59.7" r="9.2" fill="#2e2616"/>
<path d="M297.9 57.6h3.2v7.2" stroke="#f7a600" stroke-width="2.5" stroke-linecap="butt" stroke-linejoin="miter"/><path d="M297.6 64.6h5.6" stroke="#f7a600" stroke-width="1.9" stroke-linecap="butt"/><circle cx="300.2" cy="54.2" r="1.7" fill="#f7a600"/>
<path d="M1489.6 52L1480.9 60.6L1484.7 61.1L1483.5 68L1492.2 59.7L1488.4 59.1Z" fill="#f7a600"/>
<g stroke-linecap="butt" stroke-width="1.2"><path d="M358 72.4H428" stroke="#81858c" stroke-dasharray="3.4 1.5"/><path d="M1476.2 43.4H1634" stroke="#81858c" stroke-dasharray="3.4 1.5"/><path d="M1497 72.4H1573" stroke="#f7a600" stroke-dasharray="3.4 1.5"/></g>
<path d="M3331 37.4C3330 36.4 3328.5 35.9 3327 35.9H3323.7A2.5 2.5 0 0 0 3321.2 38.4V49.7A2.5 2.5 0 0 0 3323.7 52.2H3327C3328.5 52.2 3330 52.7 3331 53.9C3332 52.7 3333.5 52.2 3335 52.2H3338.3A2.5 2.5 0 0 0 3340.8 49.7V38.4A2.5 2.5 0 0 0 3338.3 35.9H3335C3333.5 35.9 3332 36.4 3331 37.4ZM3331 37.4V53.6" stroke="#fff" stroke-width="2.2"/>
<circle cx="3343" cy="33" r="3.2" fill="#ef454a"/>
<g stroke="#adb1b8" stroke-width="2"><rect x="3268.2" y="114.3" width="18.3" height="17.6" rx="2.5"/><path d="M3277.3 114.3v17.6M3268.2 123.1h18.3" stroke-linecap="butt"/></g>
<g stroke="#adb1b8" stroke-width="2"><path d="M3341.6 113.6L3334.3 120.7M3334.3 114.3V120.7H3340.7"/><path d="M3322 132.8L3328.8 126.5M3322.6 126.5H3328.8V132.7"/></g>
<g stroke="#fff" stroke-width="1.5"><circle cx="3063.1" cy="183.2" r="6"/><path d="M3063.1 179.8v3.6l2.3 1.4M3056.6 178.6a3 3 0 0 1 3.3-3.2M3069.6 178.6a3 3 0 0 0-3.3-3.2M3058.6 188.2l-2.1 2.4M3067.6 188.2l2.1 2.4"/></g>
<g stroke="#adb1b8" stroke-width="2"><path d="M3250.3 179.2a2 2 0 0 1 2-2h2.3l1.6-2.2h6.6l1.6 2.2h2.3a2 2 0 0 1 2 2v9.4a2 2 0 0 1-2 2h-14.4a2 2 0 0 1-2-2z"/><circle cx="3259.5" cy="183.7" r="3.7"/></g>
<g stroke="#adb1b8" stroke-width="2"><path d="M3285.6 182.9l5-8.8h10l5 8.8l-5 8.8h-10z"/><circle cx="3295.6" cy="182.9" r="2.8"/></g>
<g stroke="#adb1b8" stroke-width="2"><rect x="3322.4" y="174.1" width="18.4" height="17.6" rx="2"/><path d="M3325.6 182.4v-4.8h4.8M3325.9 177.9l4.4 4.4M3338.3 184.4v4.8h-4.8M3338 188.9l-4.4-4.4" stroke-width="1.7"/></g>
<g stroke="#adb1b8" stroke-width="1.9"><rect x="1008" y="177.3" width="5.1" height="11.6" rx="2.4"/><path d="M1010.5 173.6v3.4M1010.5 189.2v3.2" /><rect x="1017.1" y="179" width="5.1" height="9.3" rx="2.4"/><path d="M1019.65 175.9v2.8M1019.65 188.6v2.9"/></g>
<rect x="3170.8" y="222.6" width="29" height="29.3" rx="5.5" stroke="#363943" stroke-width="1" fill="#101014" fill-opacity="0.6"/>
<rect x="3206.9" y="222.6" width="29" height="29.3" rx="5.5" stroke="#363943" stroke-width="1" fill="#101014" fill-opacity="0.6"/>
<rect x="3243.4" y="222.6" width="29" height="29.3" rx="5.5" stroke="#363943" stroke-width="1" fill="#101014" fill-opacity="0.6"/>
<g stroke="#e0e2e8" stroke-width="1.5"><path d="M3185.2 230.9V243.8M3179.4 238.3L3185.2 244L3191 238.3"/><path d="M3216 229.6L3221.5 234.2L3227 229.6M3216 245.9L3221.5 241.3L3227 245.9"/><path d="M3251 234.5v-1.3a3.2 3.2 0 0 1 3.2-3.2h8.2a3.2 3.2 0 0 1 3.2 3.2v1.3M3251 240.3v1.3a3.2 3.2 0 0 0 3.2 3.2h8.2a3.2 3.2 0 0 0 3.2-3.2v-1.3" stroke-width="1.8"/></g>
<g stroke="#d1d4dc" stroke-width="1.6"><path d="M246.5 266.2C245.4 265.9 244.3 265.7 243.1 265.7C236.5 265.7 232.3 272.6 232.3 272.6C232.3 272.6 233.6 275.6 236.4 278.1M239.8 280.6C240.8 281 241.9 281.2 243.1 281.2C249.7 281.2 253.9 273.4 253.9 273.4C253.9 273.4 252.8 270.6 250.4 268.3"/><path d="M239.3 275.2A4.2 4.2 0 0 1 245 269.6M247 271.7A4.2 4.2 0 0 1 241.3 277.3"/><path d="M251.5 264.6L234.3 282.3"/></g>
<g stroke="#f7a600" stroke-width="1.5" stroke-linecap="butt"><path d="M45.7 232.3V244.6M45.7 255V266.9M28.3 249.7H40.9M50.9 249.7H62.9"/></g>
<g stroke="#b0b3bc" stroke-width="1.4">
<circle cx="57.6" cy="290.1" r="3.1"/><circle cx="32.2" cy="315.9" r="3.1"/><path d="M55.4 292.3L34.4 313.7"/>
<path d="M28.3 342.8H61.8M28.3 351.8H57.6M28.3 360.7H61.8M32.2 369.7H61.8"/><circle cx="60.7" cy="351.8" r="3.1"/><circle cx="29.1" cy="369.7" r="3.1"/>
<path d="M27.9 423.9L36 410.2C38 407.2 42 406.6 45 408.2C48.5 410 50.8 413.5 49.3 417.8C48 421.5 45.5 423.9 42 423.9Z"/><path d="M51.6 399.4C49 400.8 47.8 402.8 48.6 405C49.6 407.8 52.6 409.3 55.4 408.4L64.6 399.4"/>
<path d="M36.3 457V453.2H55.5V457M45.9 453.2V477.7M42 477.7H49.9"/>
<circle cx="36.7" cy="505.9" r="3.1"/><circle cx="54.8" cy="507.7" r="3.1"/><circle cx="42.7" cy="516.7" r="3.1"/><circle cx="32.2" cy="531.8" r="3.1"/><circle cx="59.5" cy="527.2" r="3.1"/>
<path d="M36 509L32.9 528.7M38.2 508.7L41.2 514M40.9 519.3L34 529.2M45.2 514.9L52.3 509.6M55.6 510.7L58.6 524.2M45.5 518.2L56.8 525.7"/>
<circle cx="30.7" cy="561.8" r="3.1"/><circle cx="30.7" cy="576.9" r="3.1"/><circle cx="57.6" cy="576.9" r="3.1"/><circle cx="30.7" cy="585.8" r="3.1"/>
<path d="M33.8 561.8H60M33.8 576.9H54.5M33.8 585.8H60"/><path d="M37.9 573.7L56.9 564.6" stroke-dasharray="1.6 4.4" stroke-width="1.6"/>
<path d="M45.05 617.9C42.5 612.5 35.5 611.3 30.8 614.6C26.3 618 26.3 624.3 30.3 628.4L45.05 641.6L59.8 628.4C63.8 624.3 63.8 618 59.3 614.6C54.6 611.3 47.6 612.5 45.05 617.9Z"/>
<path d="M54.2 684.2a1.6 1.6 0 0 1 2.2 0l5.7 5.6a1.6 1.6 0 0 1 0 2.2l-25.4 25.7a1.6 1.6 0 0 1-2.2 0l-5.8-5.8a1.6 1.6 0 0 1 0-2.2z"/>
<path d="M32.6 706.4l2.3 2.4M36.4 702.6l3.6 3.7M40.4 698.5l2.3 2.4M44.3 694.5l3.6 3.7M48.3 690.5l2.3 2.4M52.2 686.5l2.2 2.3" stroke-width="1.3"/>
<circle cx="42.96" cy="752.8" r="12.5"/><path d="M37.4 752.8H48.6M42.96 747.2V758.4M51.9 761.7L57.4 767.5"/>
<path d="M33.2 841.1V825A11.85 11.85 0 0 1 56.9 825V841.1H49.2V825.7A4.15 4.15 0 0 0 40.9 825.7V841.1ZM33.2 834.8H40.9M49.2 834.8H56.9" stroke-linejoin="miter"/>
<path d="M29.2 888.6L30.4 882.3L47.5 865.2Q48.9 864 50.2 865.2L52.7 867.7Q53.9 869 52.6 870.3L35.5 887.4ZM30.4 882.3Q33.6 883.6 35.5 887.4M44.6 868.1L49.7 873.2M33.4 884.4L47.1 870.7" stroke-width="1.3"/>
<rect x="46.9" y="887.3" width="13.1" height="9" rx="1"/><path d="M51.6 887.3V884a3.1 3.1 0 0 1 5.9-1.2M53.5 891V892.8" />
<rect x="33.2" y="933.4" width="23.5" height="17" rx="2.6"/><path d="M40.2 933.4V928.3A5.3 5.3 0 0 1 50.6 927.6"/><path d="M45.05 940.2V943.4" stroke-width="2.2"/>
<path d="M29.4 984C32.5 977.5 37.5 973.6 43.4 973.6C49.3 973.6 54.3 977.5 57.4 984C54.3 990.5 49.3 994.5 43.4 994.5C37.5 994.5 32.5 990.5 29.4 984Z"/><circle cx="43.4" cy="983.9" r="5.3"/>
<path d="M45.3 1006.2L48.6 1001.6C50 999.8 52.6 999.6 54 1001C55.6 1002.6 55.3 1005 53 1006Q49.5 1007 45.3 1006.2Z" stroke-width="1.3"/><path d="M57 996.8C55.6 997.6 55.4 999 56.2 1000.2C57 1001.2 58.4 1001.2 59.2 1000.4L61.8 997.2" stroke-width="1.3"/>
<path d="M31.8 1055.4H58.3M39.5 1055.4V1052.5a1.8 1.8 0 0 1 1.8-1.8H49.1a1.8 1.8 0 0 1 1.8 1.8V1055.4M34.6 1055.4V1075.2A3.5 3.5 0 0 0 38.1 1078.7H52.3A3.5 3.5 0 0 0 55.8 1075.2V1055.4M41.1 1060.8V1072.4M49 1060.8V1072.4"/>
</g>
<path d="M18 663.8H72" stroke="#3a3d48" stroke-width="2" stroke-linecap="butt"/>
<path d="M18 791.2H72" stroke="#3a3d48" stroke-width="2" stroke-linecap="butt"/>
<path d="M18 1026.8H72" stroke="#3a3d48" stroke-width="2" stroke-linecap="butt"/>
</svg>
</body></html>
